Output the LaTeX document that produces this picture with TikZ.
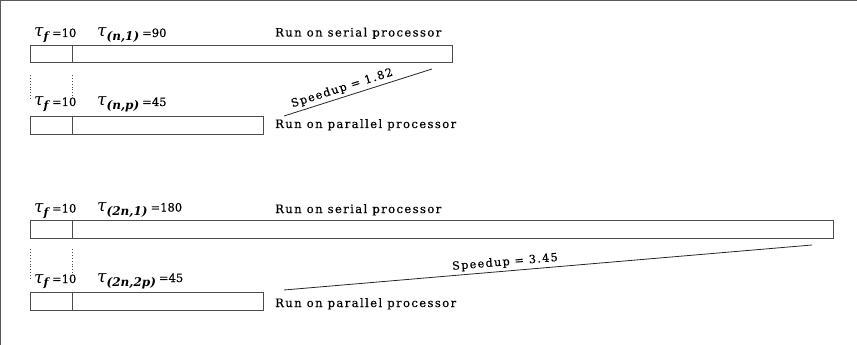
\documentclass[tikz,border=0pt]{standalone}
\usepackage{fontspec}
\setmainfont{DejaVu Serif}
\newfontfamily\runfont[LetterSpace=12,FakeBold=0.4]{DejaVu Serif}
\newfontfamily\eqfont[FakeBold=0.4]{DejaVu Serif}
\begin{document}
\begin{tikzpicture}[x=1pt,y=-1pt,
  frame/.style={draw=black!65,line width=1.4pt},
  seg/.style={draw=black!70,line width=0.9pt,rectangle,inner sep=0pt,anchor=north west,minimum height=17.5pt},
  guide/.style={draw=black!70,line width=0.9pt,dotted},
  ratio/.style={draw=black!85,line width=0.8pt},
  runlbl/.style={font=\runfont\fontsize{11.6}{13}\selectfont,anchor=base west,inner sep=0pt},
  taulbl/.style={anchor=base west,inner sep=0pt},
  gain/.style={font=\runfont\fontsize{11.2}{13}\selectfont,sloped,above,inner sep=3pt}]
\newcommand\tauf{{\fontsize{17}{17}\selectfont\itshape τ}\raisebox{-3.5pt}{\fontsize{11.5}{12}\selectfont\bfseries\itshape f}\hspace{3.5pt}{\eqfont\fontsize{11.5}{12}\selectfont =10}}
\newcommand\taux[2]{{\fontsize{17}{17}\selectfont\itshape τ}\raisebox{-4pt}{\fontsize{12}{12}\selectfont\bfseries\itshape #1}\hspace{3pt}{\eqfont\fontsize{11.5}{12}\selectfont =#2}}
\useasboundingbox (0,0) rectangle (857,345);
% outer frame: left and top edges only
\draw[frame] (0.7,0) -- (0.7,345);
\draw[frame] (0,0.7) -- (857,0.7);

% ---- problem of size n ----
\node[seg,minimum width=42pt]  (f1) at (30,45) {};
\node[seg,minimum width=380pt] (w1) at (72,45) {};
\node[taulbl] (t1f) at (34,37) {\tauf};
\node[taulbl] (t1w) at (97,37) {\taux{(n,1)}{90}};
\node[runlbl] (r1) at (275,36.5) {Run on serial processor};

\coordinate (d1a) at (30,75);  \coordinate (d1b) at (30,101);
\coordinate (d1c) at (72,75);  \coordinate (d1d) at (72,97);
\draw[guide] (d1a) -- (d1b);
\draw[guide] (d1c) -- (d1d);

\node[seg,minimum width=42pt]  (f2) at (30,116) {};
\node[seg,minimum width=191pt] (w2) at (72,116) {};
\node[taulbl] (t2f) at (34,106) {\tauf};
\node[taulbl] (t2w) at (97,106) {\taux{(n,p)}{45}};
\node[runlbl] (r2) at (275,128) {Run on parallel processor};

\coordinate (s1a) at (284,116);
\coordinate (s1b) at (432,69);
\draw[ratio] (s1a) -- node[gain,pos=0.41] {Speedup = 1.82} (s1b);

% ---- problem of size 2n ----
\node[seg,minimum width=42pt]  (f3) at (30,220) {};
\node[seg,minimum width=761pt] (w3) at (72,220) {};
\node[taulbl] (t3f) at (34,212.5) {\tauf};
\node[taulbl] (t3w) at (97,211.5) {\taux{(2n,1)}{180}};
\node[runlbl] (r3) at (275,213) {Run on serial processor};

\coordinate (d2a) at (30,249);  \coordinate (d2b) at (30,280);
\coordinate (d2c) at (72,249);  \coordinate (d2d) at (72,275);
\draw[guide] (d2a) -- (d2b);
\draw[guide] (d2c) -- (d2d);

\node[seg,minimum width=42pt]  (f4) at (30,292) {};
\node[seg,minimum width=191pt] (w4) at (72,292) {};
\node[taulbl] (t4f) at (34,283) {\tauf};
\node[taulbl] (t4w) at (97,282) {\taux{(2n,2p)}{45}};
\node[runlbl] (r4) at (275,307) {Run on parallel processor};

\coordinate (s2a) at (284,290);
\coordinate (s2b) at (812,245);
\draw[ratio] (s2a) -- node[gain,pos=0.42] {Speedup = 3.45} (s2b);
\end{tikzpicture}
\end{document}
